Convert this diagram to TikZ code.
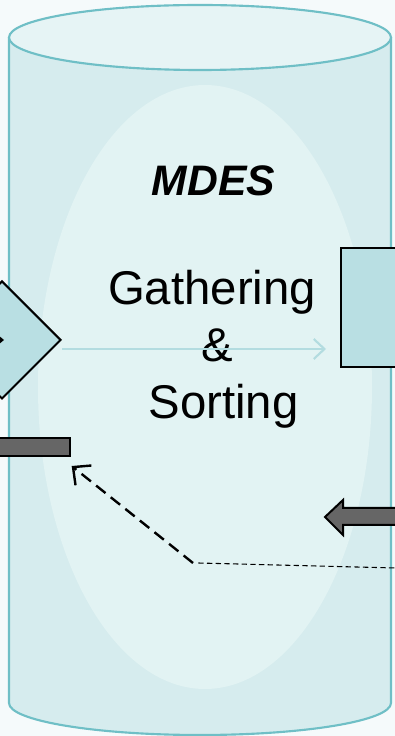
\documentclass[tikz,border=0pt]{standalone}
\usepackage{fontspec}
\setmainfont{Liberation Sans}
\usetikzlibrary{arrows.meta,shapes.geometric}
\definecolor{paper}{HTML}{F5FAFB}
\definecolor{drumside}{HTML}{D6ECEE}
\definecolor{drumtop}{HTML}{E6F4F5}
\definecolor{drumrim}{HTML}{6FBFC6}
\definecolor{glow}{HTML}{E2F3F3}
\definecolor{boxfill}{HTML}{B9DFE3}
\definecolor{flowline}{HTML}{B3DCE0}
\definecolor{bargray}{HTML}{666666}
\begin{document}
\begin{tikzpicture}
        [x=0.75pt,y=0.75pt,
        rim/.style={draw=drumrim,line width=1.6pt,line join=round},
        block/.style={draw=black,line width=1.5pt,inner sep=0pt,fill=boxfill},
        bar/.style={draw=black,line width=1.5pt,inner sep=0pt,fill=bargray},
        caption/.style={anchor=base,inner sep=0pt,font=\fontsize{35.5}{42}\selectfont},
        flow/.style={draw=flowline,line width=1.6pt,-{Straight Barb[length=8pt,width=15pt,line width=1.6pt]}},
        link/.style={draw=black,line width=1.8pt,dash pattern=on 9pt off 5pt,-{Straight Barb[length=10pt,width=19pt,line width=1.8pt,sep=0pt]}},
        ]
        \useasboundingbox[fill=paper] (0,0) rectangle (395,736);
        % cylinder
        \path[fill=drumside] (9,698.5) -- (9,33) arc[start angle=180,end angle=360,x radius=191,y radius=32] -- (391,698.5) -- cycle;
        \fill[glow] (205,349) ellipse[x radius=167,y radius=302];
        \draw[rim] (9,698.5) -- (9,33) arc[start angle=180,end angle=360,x radius=191,y radius=32] -- (391,698.5);
        \draw[rim,fill=drumtop] (200,698.5) ellipse[x radius=191,y radius=32.5];
        % texts
        \node[caption,font=\fontsize{32}{36}\selectfont\bfseries\itshape] (title) at (213.5,540) {MDES};
        \node[caption] (line-1) at (212,431) {Gathering};
        \node[caption] (line-2) at (217,374) {\&};
        \node[caption] (line-3) at (223.5,317) {Sorting};
        % shapes at the edges
        \node[block,diamond,minimum width=88.5pt,minimum height=88.5pt] (gate) at (2,396) {};
        \fill[black] (-2,401) -- (4,396) -- (-2,391) -- cycle;
        \node[block,rectangle,minimum width=60pt,minimum height=89.25pt] (store) at (381,428.5) {};
        \node[bar,rectangle,minimum width=67.5pt,minimum height=13.5pt] (out-bar) at (25,289) {};
        \draw[bar,line join=miter] (325,219) coordinate (in-tip) -- (343,236) -- (343,228) -- (400,228) -- (400,211) -- (343,211) -- (343,201) -- cycle;
        % connectors
        \coordinate (flow-a) at (62,387);
        \coordinate (flow-b) at (326,387);
        \draw[flow] (flow-a) -- (flow-b);
        \coordinate (bend) at (193,173);
        \coordinate (edge) at (396,168);
        \draw[link] (bend) -- ([xshift=0.5pt,yshift=-6.75pt]out-bar.south east);
        \draw[black,line width=0.8pt,dash pattern=on 4pt off 2.5pt] ([xshift=4pt]bend) -- (edge);
    \end{tikzpicture}
\end{document}
